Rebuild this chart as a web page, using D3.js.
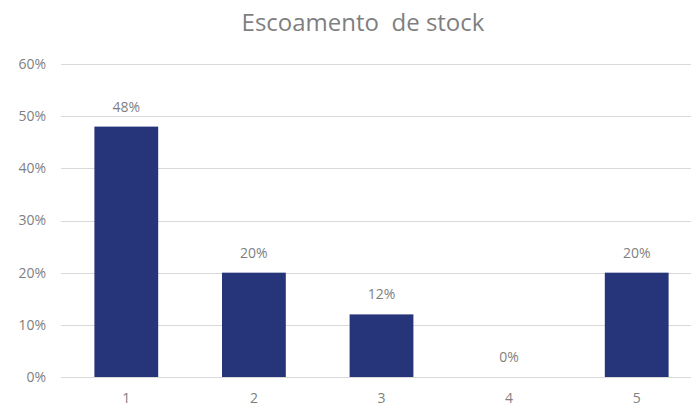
<!DOCTYPE html>
<html><head><meta charset="utf-8">
<script src="https://cdn.jsdelivr.net/npm/d3@7"></script>
<style>body{margin:0;background:#fff}svg{display:block}text{font-family:"Open Sans",sans-serif}</style>
</head><body>
<svg id="c" width="691" height="409"></svg>
<script>
const categories = ["1","2","3","4","5"];
const values = [0.48, 0.20, 0.12, 0.00, 0.20];
const yTicks = [0, 0.1, 0.2, 0.3, 0.4, 0.5, 0.6];
const title = "Escoamento  de stock";

const svg = d3.select("#c");
const x = d3.scaleBand().domain(categories).range([62.5, 700.5]).paddingInner(0.5).paddingOuter(0.25);
const y = d3.scaleLinear().domain([0, 0.6]).range([377, 64]);
const fmt = d3.format(".0%");
const txt = "#7f7f7f";

svg.append("text").attr("x", 363).attr("y", 31).attr("text-anchor","middle")
  .attr("font-size", 24).attr("fill","#7f7f7f").style("white-space","pre").text(title);

svg.append("g").selectAll("line").data(yTicks).join("line")
  .attr("x1", 61).attr("x2", 700).attr("y1", d=>Math.round(y(d))+0.5).attr("y2", d=>Math.round(y(d))+0.5)
  .attr("stroke","#d9d9d9").attr("stroke-width",1);

const yAxis = d3.axisLeft(y).tickValues(yTicks).tickFormat(fmt).tickSize(0).tickPadding(0);
const gy = svg.append("g").attr("transform","translate(46,0)").call(yAxis);
gy.select(".domain").remove();
gy.selectAll("text").attr("font-size",14).attr("fill",txt).attr("font-family","Open Sans, sans-serif");

svg.append("g").selectAll("rect").data(values).join("rect")
  .attr("x",(d,i)=>x(categories[i])).attr("width",x.bandwidth())
  .attr("y",d=>y(d)).attr("height",d=>y(0)-y(d)).attr("fill","#263479");

svg.append("g").selectAll("text").data(values).join("text")
  .attr("x",(d,i)=>x(categories[i])+x.bandwidth()/2).attr("y",d=>y(d)-15)
  .attr("text-anchor","middle").attr("font-size",14).attr("fill",txt).text(d=>fmt(d));

const xAxis = d3.axisBottom(x).tickSize(0).tickPadding(0);
const gx = svg.append("g").attr("transform","translate(0,393)").call(xAxis);
gx.select(".domain").remove();
gx.selectAll("text").attr("font-size",14).attr("fill",txt).attr("font-family","Open Sans, sans-serif");
</script>
</body></html>
